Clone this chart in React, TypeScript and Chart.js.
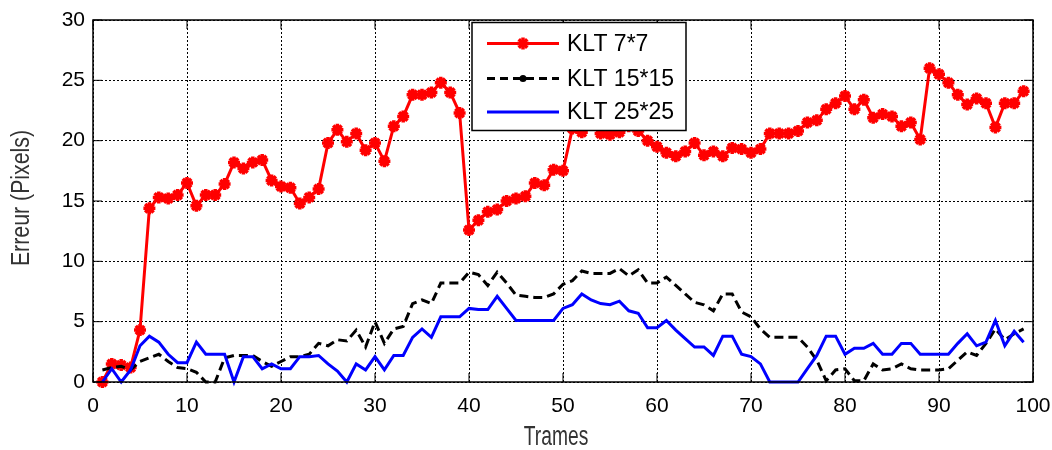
import React, { useEffect, useRef } from "react";
import { Chart, registerables } from "chart.js";

Chart.register(...registerables);

const frames: number[] = Array.from({ length: 99 }, (_, i) => i + 1);

const klt7: number[] = [
  0, 1.5, 1.4, 1.2, 4.3, 14.4, 15.3, 15.2, 15.5, 16.5,
  14.6, 15.5, 15.5, 16.4, 18.2, 17.7, 18.2, 18.4, 16.7, 16.2,
  16.1, 14.8, 15.3, 16.0, 19.8, 20.9, 19.9, 20.6, 19.2, 19.8,
  18.3, 21.2, 22.0, 23.8, 23.8, 24.0, 24.8, 24.0, 22.3, 12.6,
  13.4, 14.1, 14.3, 15.0, 15.2, 15.4, 16.5, 16.3, 17.6, 17.5,
  21.0, 20.7, 21.3, 20.6, 20.5, 20.7, 21.2, 20.8, 20.0, 19.5,
  19.0, 18.7, 19.1, 19.8, 18.8, 19.1, 18.7, 19.4, 19.3, 19.0,
  19.3, 20.6, 20.6, 20.6, 20.8, 21.5, 21.7, 22.6, 23.1, 23.7,
  22.6, 23.4, 21.9, 22.2, 22.0, 21.2, 21.5, 20.1, 26.0, 25.5,
  24.8, 23.8, 23.0, 23.5, 23.1, 21.1, 23.1, 23.1, 24.1,
];

const klt15: number[] = [
  1.0, 1.2, 1.3, 1.0, 1.7, 2.0, 2.3, 1.7, 1.2, 1.1,
  0.8, 0, 0, 2.0, 2.2, 2.2, 2.2, 1.7, 1.3, 1.7,
  2.1, 2.1, 2.3, 3.2, 3.0, 3.5, 3.4, 4.3, 2.9, 5.0,
  3.2, 4.4, 4.6, 6.5, 6.8, 6.5, 8.2, 8.2, 8.2, 9.1,
  8.9, 8.0, 9.1, 8.2, 7.2, 7.1, 7.0, 7.0, 7.3, 8.1,
  8.4, 9.2, 9.0, 9.0, 9.0, 9.4, 8.8, 9.3, 8.2, 8.2,
  8.7, 8.0, 7.3, 6.6, 6.4, 5.9, 7.3, 7.3, 5.8, 5.4,
  4.4, 3.7, 3.7, 3.7, 3.7, 2.9, 1.8, 0.1, 1.0, 1.1,
  0.1, 0.1, 1.5, 1.0, 1.1, 1.5, 1.1, 1.0, 1.0, 1.0,
  1.1, 1.8, 2.5, 2.2, 3.2, 4.4, 3.5, 4.0, 4.4,
];

const klt25: number[] = [
  0, 1.1, 0, 1.0, 3.0, 3.8, 3.3, 2.3, 1.6, 1.6,
  3.3, 2.3, 2.3, 2.3, 0, 2.1, 2.1, 1.1, 1.5, 1.1,
  1.1, 2.1, 2.1, 2.2, 1.5, 0.9, 0, 1.5, 1.0, 2.1,
  1.0, 2.2, 2.2, 3.7, 4.4, 3.7, 5.4, 5.4, 5.4, 6.1,
  6.0, 6.0, 7.1, 6.1, 5.1, 5.1, 5.1, 5.1, 5.1, 6.1,
  6.4, 7.3, 6.8, 6.5, 6.4, 6.7, 5.9, 5.7, 4.5, 4.5,
  5.1, 4.3, 3.6, 2.9, 2.9, 2.2, 3.8, 3.8, 2.3, 2.1,
  1.5, 0, 0, 0, 0, 1.1, 2.2, 3.8, 3.8, 2.3,
  2.8, 2.8, 3.2, 2.3, 2.3, 3.2, 3.2, 2.3, 2.3, 2.3,
  2.3, 3.2, 4.0, 3.0, 3.3, 5.1, 3.0, 4.2, 3.3,
];

const seriesNames: string[] = ["KLT 7*7", "KLT 15*15", "KLT 25*25"];
const xTicks: number[] = [0, 10, 20, 30, 40, 50, 60, 70, 80, 90, 100];
const yTicks: number[] = [0, 5, 10, 15, 20, 25, 30];
const xTitle = "Trames";
const yTitle = "Erreur (Pixels)";

const RED = "#ff0000";
const BLACK = "#000000";
const BLUE = "#0000ff";
const TICK_FONT = "'Liberation Sans', Arial, sans-serif";

const toPoints = (ys: number[]) => ys.map((y, i) => ({ x: frames[i], y }));

const framePlugin = {
  id: "matlabFrame",
  afterDraw(chart: any) {
    const { ctx, chartArea: a, scales } = chart;
    ctx.save();
    ctx.setLineDash([]);
    ctx.strokeStyle = "#000";
    ctx.lineWidth = 1;
    const L = 9;
    const seg = (x1: number, y1: number, x2: number, y2: number) => {
      ctx.beginPath();
      ctx.moveTo(x1, y1);
      ctx.lineTo(x2, y2);
      ctx.stroke();
    };
    xTicks.forEach((v) => {
      const x = scales.x.getPixelForValue(v);
      seg(x, a.bottom, x, a.bottom - L);
      seg(x, a.top, x, a.top + L);
    });
    yTicks.forEach((v) => {
      const y = scales.y.getPixelForValue(v);
      seg(a.left, y, a.left + L, y);
      seg(a.right, y, a.right - L, y);
    });
    ctx.lineWidth = 1.5;
    ctx.strokeRect(a.left, a.top, a.right - a.left, a.bottom - a.top);

    // axis titles (condensed look)
    ctx.fillStyle = "#333";
    ctx.textAlign = "center";
    ctx.textBaseline = "middle";
    ctx.save();
    ctx.translate(556, 437);
    ctx.scale(0.74, 1.05);
    ctx.font = `26px ${TICK_FONT}`;
    ctx.fillText(xTitle, 0, 0);
    ctx.restore();
    ctx.save();
    ctx.translate(22, 198);
    ctx.rotate(-Math.PI / 2);
    ctx.scale(0.82, 1.0);
    ctx.font = `26px ${TICK_FONT}`;
    ctx.fillText(yTitle, 0, 0);
    ctx.restore();

    // legend box
    const bx = 472, by = 22.5, bw = 214, bh = 108;
    ctx.fillStyle = "#fff";
    ctx.fillRect(bx, by, bw, bh);
    ctx.lineWidth = 1.5;
    ctx.strokeStyle = "#000";
    ctx.strokeRect(bx, by, bw, bh);
    const rows = [43.5, 78.5, 112];
    const lx1 = 487, lx2 = 559, mx = 523;
    const colors = [RED, BLACK, BLUE];
    rows.forEach((ry, i) => {
      ctx.save();
      ctx.strokeStyle = colors[i];
      ctx.lineWidth = 3;
      if (i === 1) ctx.setLineDash([8, 5]);
      seg(lx1, ry, lx2, ry);
      ctx.setLineDash([]);
      if (i === 0) {
        ctx.lineWidth = 3.5;
        const r = 6;
        seg(mx - r, ry, mx + r, ry);
        seg(mx, ry - r, mx, ry + r);
        const d = r * 0.7071;
        seg(mx - d, ry - d, mx + d, ry + d);
        seg(mx - d, ry + d, mx + d, ry - d);
      } else if (i === 1) {
        ctx.fillStyle = BLACK;
        ctx.beginPath();
        ctx.arc(mx, ry, 3.5, 0, Math.PI * 2);
        ctx.fill();
      }
      ctx.restore();
      ctx.fillStyle = "#000";
      ctx.font = `23px ${TICK_FONT}`;
      ctx.textBaseline = "middle";
      ctx.textAlign = "left";
      ctx.fillText(seriesNames[i], 567, ry + 1);
    });
    ctx.restore();
  },
};

export default function App() {
  const ref = useRef<HTMLCanvasElement | null>(null);
  useEffect(() => {
    if (!ref.current) return;
    const chart = new Chart(ref.current, {
      type: "line",
      data: {
        datasets: [
          {
            label: seriesNames[0],
            data: toPoints(klt7),
            borderColor: RED,
            backgroundColor: RED,
            borderWidth: 3,
            pointStyle: "star",
            pointRadius: 6,
            pointBorderWidth: 3.5,
            pointBorderColor: RED,
            pointBackgroundColor: RED,
            order: 2,
            clip: false,
          } as any,
          {
            label: seriesNames[1],
            data: toPoints(klt15),
            borderColor: BLACK,
            backgroundColor: BLACK,
            borderWidth: 3,
            borderDash: [9, 5],
            pointRadius: 0,
            order: 1,
            clip: false,
          } as any,
          {
            label: seriesNames[2],
            data: toPoints(klt25),
            borderColor: BLUE,
            backgroundColor: BLUE,
            borderWidth: 3,
            pointRadius: 0,
            order: 0,
            clip: false,
          } as any,
        ],
      },
      options: {
        animation: false,
        responsive: true,
        maintainAspectRatio: false,
        layout: { padding: { top: 20, right: 19, left: 0, bottom: 0 } },
        plugins: { legend: { display: false }, tooltip: { enabled: false } },
        elements: { line: { tension: 0 } },
        scales: {
          x: {
            type: "linear",
            min: 0,
            max: 100,
            afterFit: (s: any) => {
              s.height = 68;
              s.paddingRight = 0;
              s.paddingLeft = 0;
            },
            afterBuildTicks: (s: any) => {
              s.ticks = xTicks.map((v) => ({ value: v }));
            },
            grid: { color: "#000", lineWidth: 1, drawTicks: false },
            border: { display: false, dash: [2, 2] },
            ticks: {
              color: "#000",
              font: { size: 21, family: TICK_FONT },
              padding: 12,
              maxRotation: 0,
            },
          },
          y: {
            type: "linear",
            min: 0,
            max: 30,
            afterFit: (s: any) => {
              s.width = 93;
              s.paddingTop = 0;
              s.paddingBottom = 0;
            },
            afterBuildTicks: (s: any) => {
              s.ticks = yTicks.map((v) => ({ value: v }));
            },
            grid: { color: "#000", lineWidth: 1, drawTicks: false },
            border: { display: false, dash: [2, 2] },
            ticks: {
              color: "#000",
              font: { size: 21, family: TICK_FONT },
              padding: 8,
            },
          },
        },
      },
      plugins: [framePlugin],
    });
    return () => chart.destroy();
  }, []);
  return (
    <div style={{ position: "fixed", left: 0, top: 0, width: 1052, height: 450, background: "#fff" }}>
      <canvas ref={ref} />
    </div>
  );
}
